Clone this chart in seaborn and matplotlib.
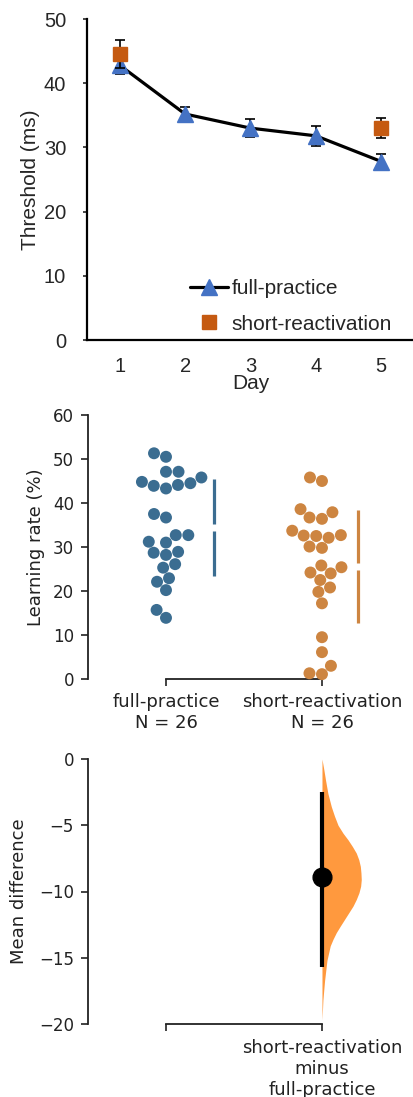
import numpy as np
import pandas as pd
import matplotlib
matplotlib.use("Agg")
import matplotlib.pyplot as plt
import seaborn as sns

# --- top panel: threshold per day ---
DAYS = [1, 2, 3, 4, 5]
FULL_MEAN = [42.8, 35.2, 33.0, 31.8, 27.8]
FULL_SEM = [1.3, 1.1, 1.4, 1.6, 1.2]
SHORT_DAYS = [1, 5]
SHORT_MEAN = [44.6, 33.0]
SHORT_SEM = [2.2, 1.6]

# --- middle panel: learning rate (%) per participant ---
GROUPS = ["full-practice", "short-reactivation"]
FULL_RATE = [51.3, 50.5, 47.1, 47.1, 44.8, 43.9, 43.3, 44.1, 44.5, 45.8,
             37.5, 36.7, 31.2, 31.0, 32.7, 32.7, 28.7, 28.2, 28.9, 26.1,
             25.3, 22.9, 22.1, 20.2, 15.7, 13.9]
SHORT_RATE = [45.8, 45.0, 38.6, 36.7, 36.4, 37.9, 33.7, 32.6, 32.5, 32.1,
              32.7, 30.1, 29.8, 25.8, 24.0, 24.2, 25.4, 22.5, 20.8, 19.8,
              17.2, 9.5, 6.1, 3.0, 1.3, 1.1]

# --- bottom panel: bootstrap distribution of the mean difference ---
DIFF_CI = [-15.7, -2.5]
DIST_Y = [0, -0.8, -1.6, -2.6, -3.6, -4.3, -5.0, -5.6, -6.1, -6.6, -7.1, -7.6, -8.1,
          -8.6, -9.1, -9.6, -10.1, -10.6, -11.1, -11.6, -12.1, -12.6, -13.1,
          -13.6, -14.1, -15.2, -16.0, -16.7, -17.5, -18.2, -19.0, -19.7]
DIST_W = [0, 0.012, 0.023, 0.038, 0.060, 0.080, 0.103, 0.135, 0.167, 0.195, 0.220,
          0.236, 0.246, 0.250, 0.252, 0.248, 0.237, 0.220, 0.199, 0.172, 0.145,
          0.118, 0.092, 0.071, 0.053, 0.032, 0.024, 0.017, 0.011, 0.006, 0.003, 0]

XL_BLUE = "#4472C4"
XL_ORANGE = "#C55A11"
SW_BLUE = "#3b6d91"
SW_ORANGE = "#cd8541"
VIOLIN = "#ff993e"

sns.set_style("ticks")
plt.rcParams["font.family"] = ["DejaVu Sans"]

W, H = 414, 1097
fig = plt.figure(figsize=(W / 100, H / 100), dpi=100)

ax_top = fig.add_axes([87 / W, 1 - 340 / H, (W - 87) / W, 321 / H])
ax_mid = fig.add_axes([88 / W, 1 - 679 / H, (W - 88) / W, 264 / H])
ax_bot = fig.add_axes([88 / W, 1 - 1024 / H, (W - 88) / W, 265 / H])

# ---------------- top panel (Excel style) ----------------
arial = "Liberation Sans"
ax_top.errorbar(DAYS, FULL_MEAN, yerr=FULL_SEM, fmt="none", ecolor="black",
                elinewidth=1.2, capsize=3.5, capthick=1.2, zorder=2)
ax_top.plot(DAYS, FULL_MEAN, color="black", lw=2.3, marker="^", ms=12,
            mfc=XL_BLUE, mec=XL_BLUE, label="full-practice", zorder=3)
ax_top.errorbar(SHORT_DAYS, SHORT_MEAN, yerr=SHORT_SEM, fmt="none", ecolor="black",
                elinewidth=1.2, capsize=3.5, capthick=1.2, zorder=4)
ax_top.plot(SHORT_DAYS, SHORT_MEAN, ls="none", marker="s", ms=10,
            mfc=XL_ORANGE, mec=XL_ORANGE, label="short-reactivation", zorder=5)
ax_top.set_xlim(0.5, 5.5)
ax_top.set_ylim(0, 50)
ax_top.set_xticks(DAYS)
ax_top.set_yticks([0, 10, 20, 30, 40, 50])
for s in ["top", "right"]:
    ax_top.spines[s].set_visible(False)
for s in ["left", "bottom"]:
    ax_top.spines[s].set_linewidth(1.6)
    ax_top.spines[s].set_color("black")
ax_top.tick_params(axis="y", length=3, width=1.2, pad=12, labelsize=14.5)
ax_top.tick_params(axis="x", length=0, pad=12, labelsize=14.5)
for lab in ax_top.get_xticklabels() + ax_top.get_yticklabels():
    lab.set_fontfamily(arial)
ax_top.set_ylabel("Threshold (ms)", fontsize=15, fontfamily=arial, labelpad=3)
ax_top.set_xlabel("Day", fontsize=15, fontfamily=arial, labelpad=-1)
ax_top.legend(loc="upper left", bbox_to_anchor=(0.315, 0.19), frameon=False,
              prop={"family": arial, "size": 15}, handlelength=1.8,
              handletextpad=0.2, labelspacing=0.8, borderpad=0, borderaxespad=0)

# ---------------- middle panel (swarm) ----------------
df = pd.DataFrame({
    "group": [GROUPS[0]] * len(FULL_RATE) + [GROUPS[1]] * len(SHORT_RATE),
    "value": FULL_RATE + SHORT_RATE,
})
sns.swarmplot(data=df, x="group", y="value", hue="group", order=GROUPS,
              hue_order=GROUPS, palette=[SW_BLUE, SW_ORANGE], size=8.6,
              linewidth=0, edgecolor="none", legend=False, ax=ax_mid)
for coll in ax_mid.collections:
    coll.set_clip_on(False)

gap = 0.8
for i, (vals, col, off) in enumerate([(FULL_RATE, SW_BLUE, 0.31), (SHORT_RATE, SW_ORANGE, 0.23)]):
    m = np.mean(vals)
    sd = np.std(vals, ddof=1)
    ax_mid.vlines([i + off, i + off], [m - sd, m + gap], [m - gap, m + sd], color=col, lw=2.3)

ax_mid.set_xlim(-0.5, 1.59)
ax_mid.set_ylim(0, 60)
ax_mid.set_yticks(range(0, 61, 10))
ax_mid.set_xticks([0, 1])
ax_mid.set_xticklabels([f"{g}\nN = {n}" for g, n in zip(GROUPS, [len(FULL_RATE), len(SHORT_RATE)])])
ax_mid.set_xlabel("")
ax_mid.set_ylabel("Learning rate (%)", fontsize=13, color="#222222", labelpad=6)
sns.despine(ax=ax_mid)
ax_mid.spines["left"].set_bounds(0, 60)
ax_mid.spines["bottom"].set_bounds(0, 1)

# ---------------- bottom panel (mean difference) ----------------
ax_bot.fill_betweenx(DIST_Y, 1, 1 + np.array(DIST_W), color=VIOLIN, lw=0)
mean_diff = np.mean(SHORT_RATE) - np.mean(FULL_RATE)
ax_bot.plot([1, 1], DIFF_CI, color="black", lw=3, solid_capstyle="butt")
ax_bot.plot([1], [mean_diff], marker="o", color="black", ms=13.5)
ax_bot.set_xlim(-0.5, 1.59)
ax_bot.set_ylim(-20, 0)
ax_bot.set_yticks([-20, -15, -10, -5, 0])
ax_bot.set_xticks([0, 1])
ax_bot.set_xticklabels(["", "short-reactivation\nminus\nfull-practice"])
ax_bot.set_ylabel("Mean difference", fontsize=13, color="#222222", labelpad=8)
sns.despine(ax=ax_bot)
ax_bot.spines["left"].set_bounds(-20, 0)
ax_bot.spines["bottom"].set_bounds(0, 1)

for ax in (ax_mid, ax_bot):
    for s in ["left", "bottom"]:
        ax.spines[s].set_linewidth(1.3)
        ax.spines[s].set_color("#222222")
    ax.tick_params(axis="y", length=5, width=1.2, pad=5, labelsize=12, colors="#222222")
ax_mid.tick_params(axis="x", length=5, width=1.2, pad=5, labelsize=13, colors="#222222")
ax_bot.tick_params(axis="x", length=5, width=1.2, pad=6, labelsize=13, colors="#222222")

fig.savefig("out.png", dpi=100)
